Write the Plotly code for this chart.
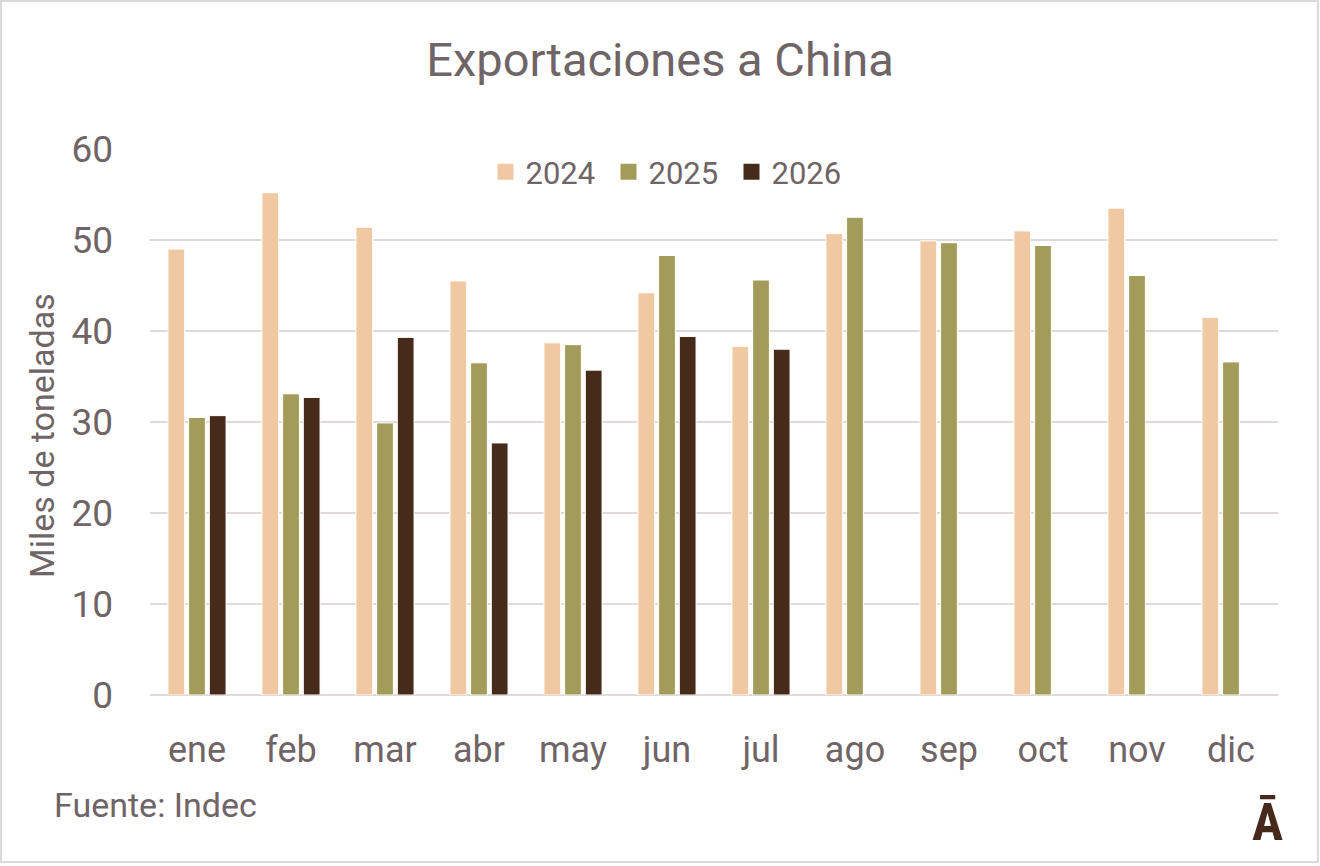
import plotly.graph_objects as go

# data (miles de toneladas)
meses = ["ene", "feb", "mar", "abr", "may", "jun", "jul", "ago", "sep", "oct", "nov", "dic"]
exp_2024 = [49.0, 55.2, 51.4, 45.5, 38.7, 44.2, 38.3, 50.7, 49.9, 51.0, 53.5, 41.5]
exp_2025 = [30.5, 33.1, 29.9, 36.5, 38.5, 48.3, 45.6, 52.5, 49.7, 49.4, 46.1, 36.6]
exp_2026 = [30.7, 32.7, 39.3, 27.7, 35.7, 39.4, 38.0]

series = [("2024", exp_2024, "#F0C8A1"),
          ("2025", exp_2025, "#A39B59"),
          ("2026", exp_2026, "#462A1A")]

text_color = "#6F6466"
grid_color = "#DFD9DA"
font_name = "Roboto, Liberation Sans, sans-serif"

#plot area in pixels, used to place the notes that sit outside it
PL, PR, PT, PB = 150, 1278, 149, 695
def px(x):
    return (x - PL) / (PR - PL)
def py(y):
    return (PB - y) / (PB - PT)

fig = go.Figure()

#bars (legend drawn by the marker traces below so the squares are bigger)
for name, vals, col in series:
    fig.add_trace(go.Bar(x=meses[:len(vals)], y=vals, name=name,
                         marker=dict(color=col, line=dict(color="white", width=1)),
                         showlegend=False, hoverinfo="skip"))

for name, vals, col in series:
    fig.add_trace(go.Scatter(x=[None], y=[None], name=name, mode="markers",
                             marker=dict(symbol="square", size=19, color=col),
                             showlegend=True))

fig.update_layout(
    width=1320, height=866,
    margin=dict(l=PL, r=1320 - PR, t=PT, b=866 - PB, autoexpand=False),
    paper_bgcolor="white", plot_bgcolor="white",
    font=dict(family=font_name, color=text_color),
    barmode="group", bargap=0.34, bargroupgap=0.19,
    title=dict(text="Exportaciones a China", x=0.5, xanchor="center",
               y=1 - 60 / 866, yanchor="middle", yref="container",
               font=dict(size=47, color=text_color)),
    legend=dict(orientation="h", x=px(670), xanchor="center", xref="paper",
                y=py(172), yanchor="middle", yref="paper",
                font=dict(size=31, color=text_color),
                entrywidth=78, entrywidthmode="pixels",
                bgcolor="rgba(0,0,0,0)"),
)

fig.update_xaxes(type="category", categoryorder="array", categoryarray=meses,
                 range=[-0.5, 11.5],
                 showgrid=False, showline=False, zeroline=False, ticks="",
                 tickfont=dict(size=36, color=text_color), ticklabelstandoff=30)

fig.update_yaxes(range=[0, 60], dtick=10, tick0=0,
                 showgrid=True, gridcolor=grid_color, gridwidth=2,
                 zeroline=True, zerolinecolor=grid_color, zerolinewidth=2,
                 showline=False, ticks="",
                 tickfont=dict(size=37, color=text_color), ticklabelstandoff=36)

#axis title sits a bit below the middle of the plot, so place it by hand
fig.add_annotation(text="Miles de toneladas", xref="paper", yref="paper",
                   x=px(42), y=py(436), xanchor="center", yanchor="middle",
                   textangle=-90, showarrow=False,
                   font=dict(size=34, color=text_color))

#source note and logo
fig.add_annotation(text="Fuente: Indec", xref="paper", yref="paper",
                   x=px(52), y=py(805), xanchor="left", yanchor="middle",
                   showarrow=False, font=dict(size=34, color=text_color))
fig.add_annotation(text="<b>Ā</b>", xref="paper", yref="paper",
                   x=px(1267), y=py(822), xanchor="center", yanchor="middle",
                   showarrow=False,
                   font=dict(size=52, color="#46291A",
                             family="Liberation Sans Narrow, Roboto Condensed, Roboto"))

#thin frame around the whole picture
fig.add_shape(type="rect", xref="paper", yref="paper",
              x0=px(1), x1=px(1318), y0=py(862), y1=py(1),
              line=dict(color="#D9D9D9", width=2), fillcolor="rgba(0,0,0,0)", layer="above")

#drop the page's default body margin so the figure starts at the window corner
fig.write_html("out.html", config={"displayModeBar": False},
               post_script="document.body.style.margin='0';")
